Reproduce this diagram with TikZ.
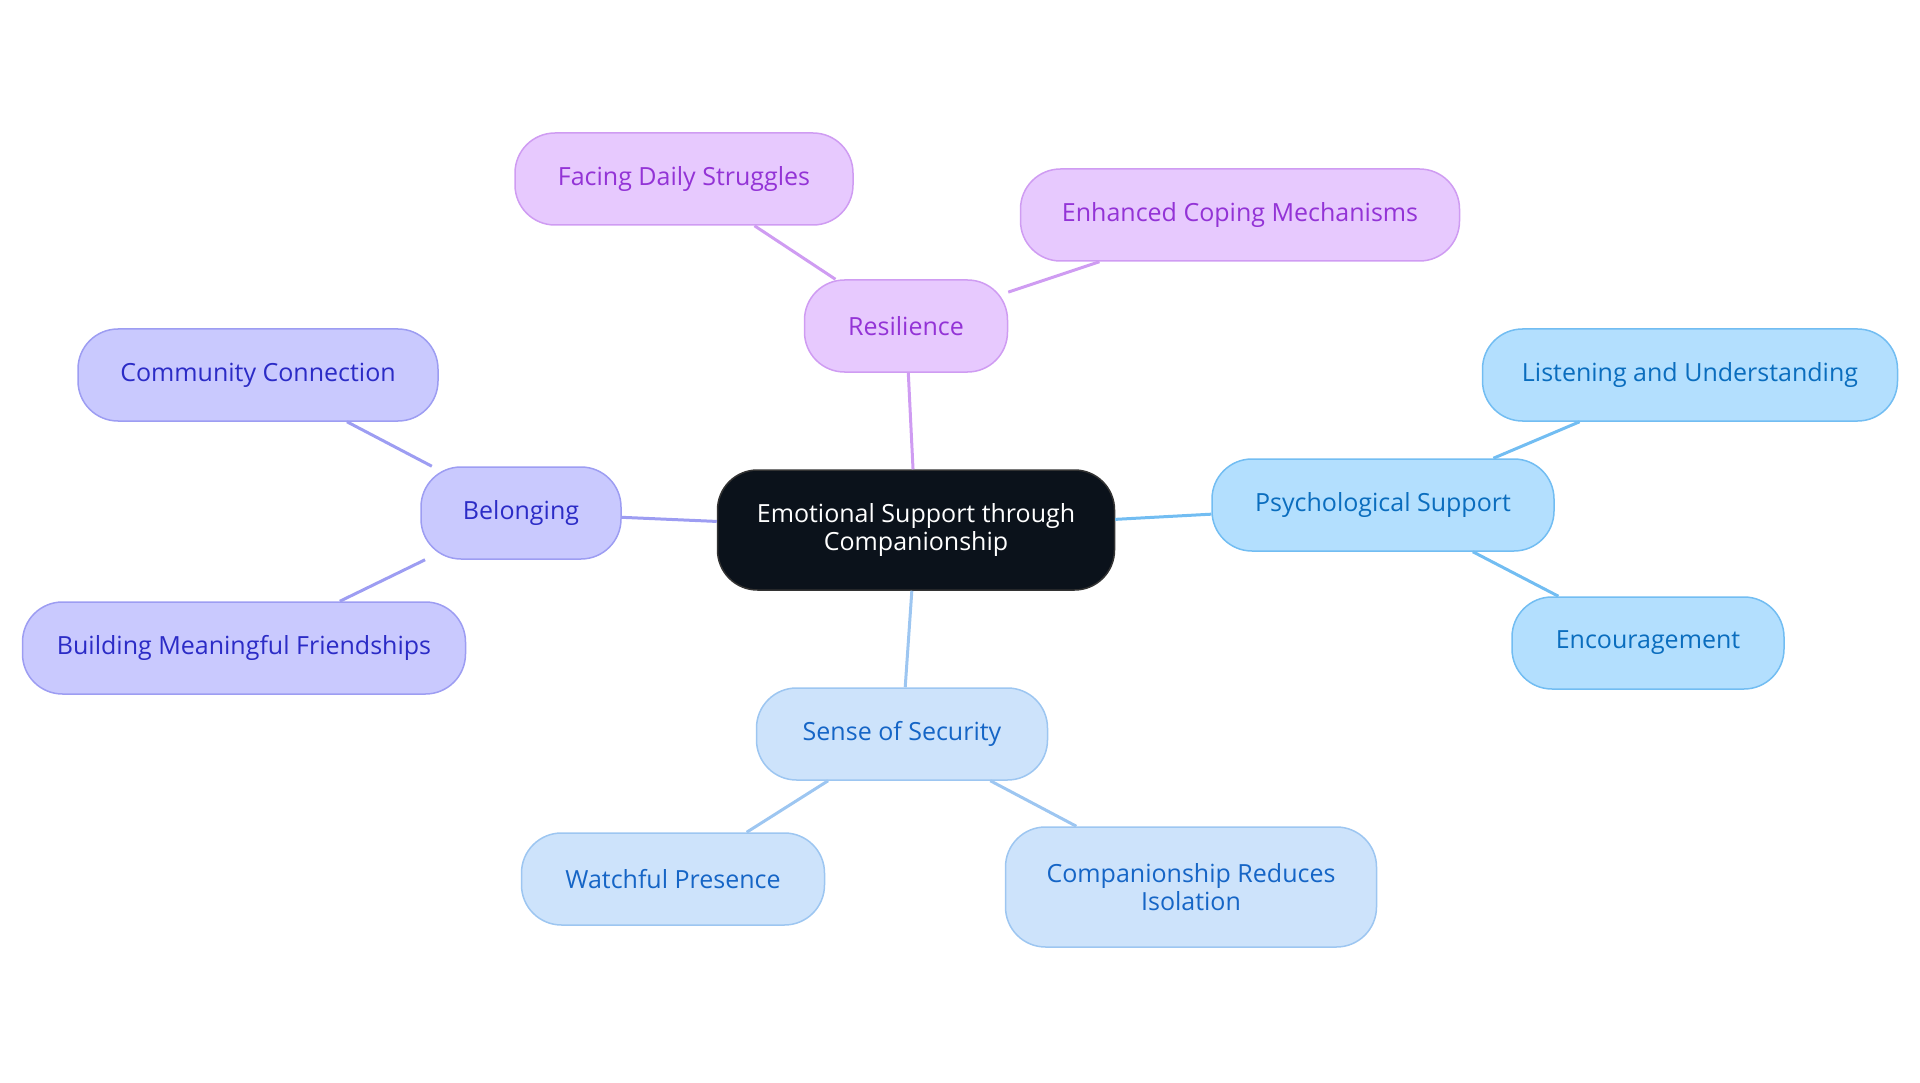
\documentclass[tikz,border=0pt]{standalone}
\usepackage{fontspec}
\setmainfont{Open Sans}
\definecolor{centerfill}{HTML}{0B121B}
\definecolor{resfill}{HTML}{E7C9FE}
\definecolor{resdraw}{HTML}{CF9CF2}
\definecolor{restext}{HTML}{9333D6}
\definecolor{belfill}{HTML}{C9C9FE}
\definecolor{beldraw}{HTML}{9D9DF2}
\definecolor{beltext}{HTML}{2B2BC6}
\definecolor{psyfill}{HTML}{B3DFFE}
\definecolor{psydraw}{HTML}{72BDF2}
\definecolor{psytext}{HTML}{0A6DBE}
\definecolor{secfill}{HTML}{CDE3FB}
\definecolor{secdraw}{HTML}{9DC6F1}
\definecolor{sectext}{HTML}{1565C6}
\tikzset{
	box/.style={draw, rounded corners=40pt, line width=1.5pt, minimum height=92pt, inner xsep=4pt, align=center, font=\fontsize{25}{28}\selectfont},
	res/.style={box, fill=resfill, draw=resdraw, text=restext},
	bel/.style={box, fill=belfill, draw=beldraw, text=beltext},
	psy/.style={box, fill=psyfill, draw=psydraw, text=psytext},
	sec/.style={box, fill=secfill, draw=secdraw, text=sectext},
	link/.style={line width=3pt}
}
\begin{document}
\begin{tikzpicture}[x=1pt, y=-1pt]
		\useasboundingbox (0,0) rectangle (1920,1083);
		
		\node[box, fill=centerfill, draw=black!80, text=white, minimum width=397pt, minimum height=120pt] (center) at (916,530) {Emotional Support through\\Companionship};
		
		\node[res, minimum width=203pt] (resilience) at (906,326) {Resilience};
		\node[res, minimum width=338pt] (struggles) at (684,179) {Facing Daily Struggles};
		\node[res, minimum width=439pt] (coping) at (1240,215) {Enhanced Coping Mechanisms};
		
		\node[bel, minimum width=200pt] (belonging) at (521,513) {Belonging};
		\node[bel, minimum width=360pt] (community) at (258,375) {Community Connection};
		\node[bel, minimum width=443pt] (friends) at (244,648) {Building Meaningful Friendships};
		
		\node[psy, minimum width=342pt] (psych) at (1383,505) {Psychological Support};
		\node[psy, minimum width=415pt] (listening) at (1690,375) {Listening and Understanding};
		\node[psy, minimum width=272pt] (encourage) at (1648,643) {Encouragement};
		
		\node[sec, minimum width=291pt] (security) at (902,734) {Sense of Security};
		\node[sec, minimum width=303pt] (watchful) at (673,879) {Watchful Presence};
		\node[sec, minimum width=371pt, minimum height=120pt] (isolation) at (1191,887) {Companionship Reduces\\Isolation};
		
		\draw[link, resdraw] (center) -- (resilience);
		\draw[link, resdraw] (resilience) -- (struggles);
		\draw[link, resdraw] (resilience) -- (coping);
		\draw[link, beldraw] (center) -- (belonging);
		\draw[link, beldraw] (belonging) -- (community);
		\draw[link, beldraw] (belonging) -- (friends);
		\draw[link, psydraw] (center) -- (psych);
		\draw[link, psydraw] (psych) -- (listening);
		\draw[link, psydraw] (psych) -- (encourage);
		\draw[link, secdraw] (center) -- (security);
		\draw[link, secdraw] (security) -- (watchful);
		\draw[link, secdraw] (security) -- (isolation);
	\end{tikzpicture}
\end{document}
